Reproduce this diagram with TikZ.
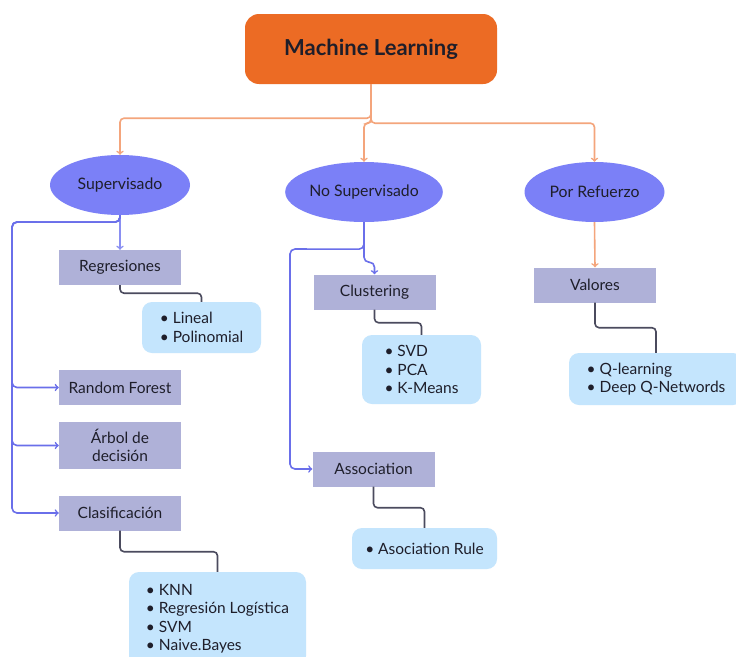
\documentclass[tikz,border=0pt]{standalone}
\usepackage{fontspec}
\setmainfont{Lato}
\usetikzlibrary{shapes.geometric}
\definecolor{mlorange}{HTML}{EC6B24}
\definecolor{linkorange}{HTML}{F4A57C}
\definecolor{typeblue}{HTML}{7B80F7}
\definecolor{railblue}{HTML}{6A6FEA}
\definecolor{arrowblue}{HTML}{8A8FF2}
\definecolor{boxgrey}{HTML}{AFB1D8}
\definecolor{listblue}{HTML}{C4E5FD}
\definecolor{linkdark}{HTML}{4B4B5E}
\definecolor{textdark}{HTML}{1E1E2A}
\begin{document}
\begin{tikzpicture}[x=1pt, y=-1pt,
mlnode/.style={rectangle, rounded corners=14pt, fill=mlorange, minimum width=252pt, minimum height=70pt, text=textdark, font=\fontsize{22}{26}\selectfont\bfseries},
typenode/.style={ellipse, fill=typeblue, minimum width=140pt, minimum height=60pt, inner sep=1pt, text=textdark, font=\fontsize{15.8}{19}\selectfont},
methodnode/.style={rectangle, fill=boxgrey, minimum width=122pt, minimum height=35pt, text=textdark, align=center, font=\fontsize{15.5}{18.5}\selectfont},
listnode/.style={rectangle, rounded corners=10pt, fill=listblue, text=textdark, align=left, font=\fontsize{15.5}{18.5}\selectfont},
orangelink/.style={->, draw=linkorange, line width=1.6pt, rounded corners=4pt},
bluelink/.style={->, draw=railblue, line width=1.6pt, rounded corners=5pt},
darklink/.style={draw=linkdark, line width=1.6pt, rounded corners=4pt},
]
\fill[white] (0,0) rectangle (736,656);
\useasboundingbox (0,0) rectangle (736,656);
%Nodes
\node[mlnode](ml) at(371,49) {Machine Learning};
\node[typenode](sup) at(120,185) {Supervisado};
\node[typenode](nosup) at(364,192) {No Supervisado};
\node[typenode](refuerzo) at(594.5,192) {Por Refuerzo};
\node[methodnode](regresiones) at(120,267.5) {Regresiones};
\node[methodnode](forest) at(120,387.5) {Random Forest};
\node[methodnode, minimum height=47pt](arbol) at(120,445.5) {Árbol de\\decisión};
\node[methodnode](clasif) at(120,513) {Clasificación};
\node[methodnode](clustering) at(374.5,292) {Clustering};
\node[methodnode](association) at(373.5,469) {Association};
\node[methodnode](valores) at(595,285) {Valores};
\node[listnode, minimum width=119pt, minimum height=51pt](reglist) at(201.5,327.5) {• Lineal\\• Polinomial};
\node[listnode, minimum width=177pt, minimum height=94pt](claslist) at(217.5,619) {• KNN\\• Regresión Logística\\• SVM\\• Naive.Bayes};
\node[listnode, minimum width=119pt, minimum height=69pt](clulist) at(421.5,369.5) {• SVD\\• PCA\\• K-Means};
\node[listnode, minimum width=145pt, minimum height=41pt](asolist) at(424.5,548.5) {• Asociation Rule};
\node[listnode, minimum width=174pt, minimum height=52pt](qlist) at(656,379) {• Q-learning\\• Deep Q-Networds};
\coordinate (suprail) at(12,222);
\coordinate (nosuprail) at(290,249);
%Lines
\draw[orangelink] (ml.south) -- ++(0,34) -| (sup.north);
\draw[orangelink] (ml.south) -- ++(0,39) -| (nosup.north);
\draw[orangelink] (ml.south) -- ++(0,39) -| (refuerzo.north);
\draw[->, draw=arrowblue, line width=1.6pt] (sup.south) -- (regresiones.north);
\draw[bluelink] (sup.south) -- ++(0,7) -- (suprail) |- (forest.west);
\draw[bluelink] (sup.south) -- ++(0,7) -- (suprail) |- (arbol.west);
\draw[bluelink] (sup.south) -- ++(0,7) -- (suprail) |- (clasif.west);
\draw[bluelink] (nosup.south) -- ++(0,40) -| (clustering.north);
\draw[bluelink] (nosup.south) -- ++(0,27) -- (nosuprail) |- (association.west);
\draw[orangelink] (refuerzo.south) -- (valores.north);
\draw[darklink] (regresiones.south) -- ++(0,8) -| (reglist.north);
\draw[darklink] (clasif.south) -- ++(0,21) -| (claslist.north);
\draw[darklink] (clustering.south) -- ++(0,13) -| (clulist.north);
\draw[darklink] (association.south) -- ++(0,21) -| (asolist.north);
\draw[darklink] (valores.south) -- ++(0,25) -| (qlist.north);
\end{tikzpicture}
\end{document}
